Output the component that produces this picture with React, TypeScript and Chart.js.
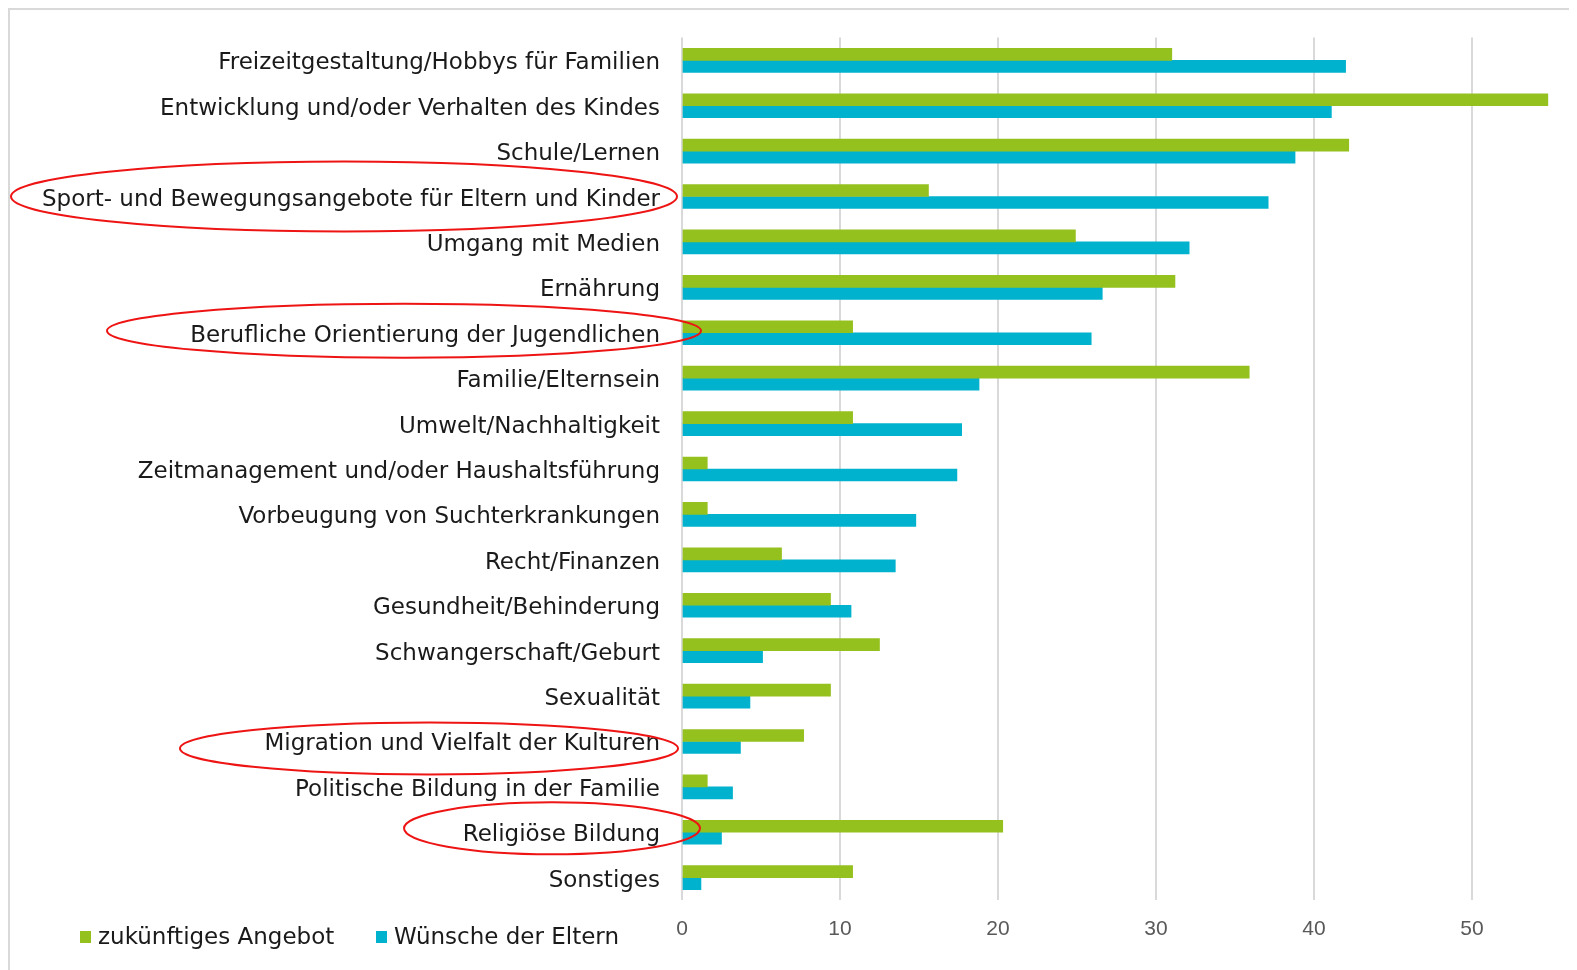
import React, { useEffect, useRef } from "react";
import { Chart, registerables } from "chart.js";

Chart.register(...registerables);

const categories = [
  "Freizeitgestaltung/Hobbys für Familien",
  "Entwicklung und/oder Verhalten des Kindes",
  "Schule/Lernen",
  "Sport- und Bewegungsangebote für Eltern und Kinder",
  "Umgang mit Medien",
  "Ernährung",
  "Berufliche Orientierung der Jugendlichen",
  "Familie/Elternsein",
  "Umwelt/Nachhaltigkeit",
  "Zeitmanagement und/oder Haushaltsführung",
  "Vorbeugung von Suchterkrankungen",
  "Recht/Finanzen",
  "Gesundheit/Behinderung",
  "Schwangerschaft/Geburt",
  "Sexualität",
  "Migration und Vielfalt der Kulturen",
  "Politische Bildung in der Familie",
  "Religiöse Bildung",
  "Sonstiges",
];

const seriesNames = ["zukünftiges Angebot", "Wünsche der Eltern"];

const zukuenftigesAngebot = [
  31.0, 54.8, 42.2, 15.6, 24.9, 31.2, 10.8, 35.9, 10.8, 1.6, 1.6, 6.3, 9.4,
  12.5, 9.4, 7.7, 1.6, 20.3, 10.8,
];

const wuenscheDerEltern = [
  42.0, 41.1, 38.8, 37.1, 32.1, 26.6, 25.9, 18.8, 17.7, 17.4, 14.8, 13.5, 10.7,
  5.1, 4.3, 3.7, 3.2, 2.5, 1.2,
];

const xTickValues = [0, 10, 20, 30, 40, 50];
const xMax = 55;

const highlighted = [
  "Sport- und Bewegungsangebote für Eltern und Kinder",
  "Berufliche Orientierung der Jugendlichen",
  "Migration und Vielfalt der Kulturen",
  "Religiöse Bildung",
];

const GREEN = "#95c11f";
const CYAN = "#00b2cd";
const LABEL_FONT = '"DejaVu Sans", Verdana, sans-serif';

// annotation ellipses (position relative to the label / axis)
const ellipseStyle = [
  { cx: 334, rx: 333, ry: 35, dy: 0 },
  { cx: 394, rx: 297, ry: 27, dy: -2 },
  { cx: 419, rx: 249, ry: 26, dy: 7 },
  { cx: 542, rx: 148, ry: 26, dy: -4 },
];

const overlayPlugin = {
  id: "overlay",
  afterDraw(chart: any) {
    const ctx = chart.ctx;
    const y = chart.scales.y;
    ctx.save();
    // ellipses
    ctx.strokeStyle = "#ee1414";
    ctx.lineWidth = 2;
    highlighted.forEach((lab, i) => {
      const idx = categories.indexOf(lab);
      const cy = y.getPixelForValue(idx) + ellipseStyle[i].dy;
      const s = ellipseStyle[i];
      ctx.beginPath();
      ctx.ellipse(s.cx, cy, s.rx, s.ry, 0, 0, Math.PI * 2);
      ctx.stroke();
    });
    // legend
    const colors = [GREEN, CYAN];
    const xs = [70, 366];
    ctx.font = `23px ${LABEL_FONT}`;
    ctx.textBaseline = "alphabetic";
    ctx.textAlign = "left";
    seriesNames.forEach((name, i) => {
      ctx.fillStyle = colors[i];
      ctx.fillRect(xs[i], 921, 11, 12);
      ctx.fillStyle = "#1a1a1a";
      ctx.fillText(name, xs[i] + 18, 934);
    });
    ctx.restore();
  },
};

export default function App() {
  const ref = useRef<HTMLCanvasElement>(null);

  useEffect(() => {
    document.body.style.overflow = "hidden";
    const chart = new Chart(ref.current as HTMLCanvasElement, {
      type: "bar",
      data: {
        labels: categories,
        datasets: [
          {
            label: seriesNames[0],
            data: zukuenftigesAngebot,
            backgroundColor: GREEN,
            borderWidth: 0,
            barThickness: 12,
          },
          {
            label: seriesNames[1],
            data: wuenscheDerEltern,
            backgroundColor: CYAN,
            borderWidth: 0,
            barThickness: 12,
          },
        ],
      },
      options: {
        indexAxis: "y",
        responsive: false,
        maintainAspectRatio: false,
        animation: false,
        layout: { padding: { top: 27.6, right: 26, bottom: 0, left: 0 } },
        plugins: {
          legend: { display: false },
          tooltip: { enabled: false },
        },
        scales: {
          x: {
            min: 0,
            max: xMax,
            afterBuildTicks: (axis: any) => {
              axis.ticks = xTickValues.map((v) => ({ value: v }));
            },
            ticks: {
              stepSize: 10,
              color: "#595959",
              padding: 16,
              font: {
                family: '"Liberation Sans Narrow", "Liberation Sans", sans-serif',
                size: 21,
              },
            },
            grid: { color: "#d9d9d9", lineWidth: 2, drawTicks: false },
            border: { display: false },
            afterFit: (s: any) => {
              s.height = 59.6;
              s.paddingLeft = 0;
              s.paddingRight = 0;
            },
          },
          y: {
            grid: { display: false, drawTicks: false },
            border: { display: false },
            ticks: {
              autoSkip: false,
              color: "#1a1a1a",
              padding: 22,
              labelOffset: 3,
              font: { family: LABEL_FONT, size: 23 },
            },
            afterFit: (s: any) => {
              s.width = 672;
              s.paddingTop = 0;
              s.paddingBottom = 0;
            },
          },
        },
      },
      plugins: [overlayPlugin],
    } as any);
    return () => chart.destroy();
  }, []);

  return (
    <div
      style={{
        position: "relative",
        width: 1600,
        height: 1000,
        border: "2px solid #d9d9d9",
        boxSizing: "border-box",
      }}
    >
      <canvas
        ref={ref}
        width={1567}
        height={950}
        style={{ position: "absolute", left: 0, top: 0, width: 1567, height: 950 }}
      />
    </div>
  );
}
